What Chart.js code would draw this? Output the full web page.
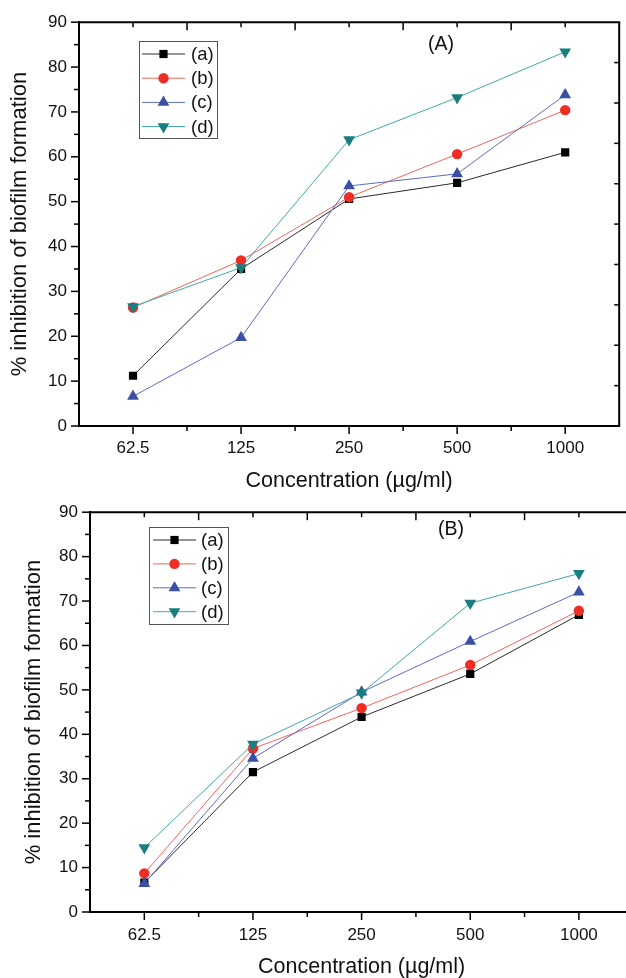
<!DOCTYPE html>
<html><head><meta charset="utf-8">
<script src="https://cdn.jsdelivr.net/npm/chart.js@4/dist/chart.umd.min.js"></script>
<style>
html,body{margin:0;padding:0;background:#fff;overflow:hidden;width:626px;height:978px;position:relative;}
#ca{position:absolute;left:0;top:0;}
#cb{position:absolute;left:0;top:490px;}
</style></head><body>
<canvas id="ca" width="626" height="500"></canvas>
<canvas id="cb" width="640" height="492"></canvas>
<script>
// ---- data ----
const categories = ['62.5', '125', '250', '500', '1000'];
const seriesNames = ['(a)', '(b)', '(c)', '(d)'];
const yTickValues = [0, 10, 20, 30, 40, 50, 60, 70, 80, 90];
const xTitle = 'Concentration (\u00B5g/ml)';
const yTitle = '% inhibition of biofilm formation';

const panelA_a = [11.2, 35.0, 50.6, 54.2, 61.0];
const panelA_b = [26.4, 36.9, 51.0, 60.6, 70.4];
const panelA_c = [6.6, 19.7, 53.5, 56.2, 73.8];
const panelA_d = [26.6, 35.3, 63.8, 73.2, 83.4];

const panelB_a = [6.6, 31.5, 43.9, 53.6, 66.9];
const panelB_b = [8.7, 36.8, 45.9, 55.6, 67.8];
const panelB_c = [6.4, 34.6, 49.5, 60.9, 72.0];
const panelB_d = [14.5, 37.8, 49.3, 69.5, 76.2];

// ---- styles ----
const FONT = '"Liberation Sans", Arial, Helvetica, sans-serif';
const seriesStyles = [
  {line: '#2a2a2a', fill: '#000000', pointStyle: 'rect', radius: 5.8, rotation: 0},
  {line: '#f2645c', fill: '#ee2d24', pointStyle: 'circle', radius: 5.2, rotation: 0},
  {line: '#5b6cc6', fill: '#3a4fa6', pointStyle: 'triangle', radius: 6.8, rotation: 0},
  {line: '#40a8a8', fill: '#1a7e7e', pointStyle: 'triangle', radius: 6.8, rotation: 180}
];

function makeDatasets(values) {
  return values.map((vals, i) => {
    const s = seriesStyles[i];
    return {
      label: seriesNames[i],
      data: vals,
      borderColor: s.line,
      borderWidth: 1,
      backgroundColor: s.fill,
      pointBackgroundColor: s.fill,
      pointBorderColor: s.fill,
      pointBorderWidth: 0,
      pointStyle: s.pointStyle,
      pointRotation: s.rotation,
      pointRadius: s.radius,
      tension: 0,
      fill: false,
      order: values.length - i
    };
  });
}

const framePlugin = {
  id: 'frame',
  afterDraw(chart, args, o) {
    const ctx = chart.ctx;
    const a = chart.chartArea;
    const x = chart.scales.x, y = chart.scales.y;
    const ln = (x1, y1, x2, y2) => { ctx.beginPath(); ctx.moveTo(x1, y1); ctx.lineTo(x2, y2); ctx.stroke(); };
    ctx.save();
    ctx.strokeStyle = '#000';
    ctx.lineWidth = 2;
    ln(a.left - 1, a.top, a.right + 1, a.top);
    ln(a.right, a.top, a.right, a.bottom + 1);
    ctx.lineWidth = 1.5;
    // left ticks (outward)
    for (let v = 0; v <= 90; v += 5) {
      const py = y.getPixelForValue(v);
      const len = v % 10 === 0 ? 8 : 5;
      ln(a.left - len, py, a.left, py);
    }
    // right ticks (inward)
    for (let v = 9; v < 90; v += 9) {
      const py = y.getPixelForValue(v);
      ln(a.right - 5, py, a.right, py);
    }
    // bottom & top ticks
    const n = categories.length;
    for (let k = 1; k < 2 * n; k++) {
      const idx = -0.5 + k * 0.5;
      const px = x.getPixelForValue(idx);
      const major = Number.isInteger(idx);
      ln(px, a.bottom, px, a.bottom + (major ? 8 : 5));
      ln(px, a.top, px, a.top + (major ? 5 : 8));
    }
    // panel label
    ctx.fillStyle = '#111';
    ctx.font = '19.5px ' + FONT;
    ctx.textAlign = 'center';
    ctx.textBaseline = 'middle';
    ctx.fillText(o.panel, o.panelX, o.panelY);
    // legend
    const L = o.legend;
    ctx.lineWidth = 1;
    ctx.strokeStyle = '#555';
    ctx.strokeRect(L.x + 0.5, L.y + 0.5, L.w, L.h);
    chart.data.datasets.forEach((ds, i) => {
      const s = seriesStyles[i];
      const cy = L.y + L.first + i * L.step;
      ctx.strokeStyle = ds.borderColor;
      ctx.lineWidth = 1;
      ln(L.lineX1, cy, L.lineX2, cy);
      ctx.fillStyle = s.fill;
      ctx.strokeStyle = s.fill;
      Chart.helpers.drawPoint(ctx, {pointStyle: s.pointStyle, rotation: s.rotation, radius: s.radius, borderWidth: 0}, (L.lineX1 + L.lineX2) / 2, cy);
      ctx.fillStyle = '#111';
      ctx.font = '18.5px ' + FONT;
      ctx.textAlign = 'left';
      ctx.textBaseline = 'middle';
      ctx.fillText(ds.label, L.textX, cy + 1);
    });
    ctx.restore();
  }
};

function makeChart(id, values, cfg) {
  return new Chart(document.getElementById(id), {
    type: 'line',
    data: {labels: categories, datasets: makeDatasets(values)},
    options: {
      responsive: false,
      animation: false,
      devicePixelRatio: 1,
      layout: {padding: cfg.padding},
      plugins: {
        legend: {display: false},
        tooltip: {enabled: false},
        frame: cfg.frame
      },
      scales: {
        x: {
          type: 'category',
          offset: true,
          grid: {display: false, drawTicks: false},
          border: {display: true, width: 2, color: '#000'},
          ticks: {color: '#111', font: {family: FONT, size: 17}, padding: cfg.xTickPad, maxRotation: 0},
          title: {display: true, text: xTitle, color: '#111', font: {family: FONT, size: 21.5}, padding: {top: 0, bottom: cfg.xTitlePad}},
          afterFit(s) { s.height = cfg.xHeight; }
        },
        y: {
          min: 0, max: 90,
          afterBuildTicks(s) { s.ticks = yTickValues.map(v => ({value: v})); },
          grid: {display: false, drawTicks: false},
          border: {display: true, width: 2, color: '#000'},
          ticks: {color: '#111', font: {family: FONT, size: 17}, padding: 12},
          title: {display: true, text: yTitle, color: '#111', font: {family: FONT, size: 22}, padding: {top: cfg.yTitlePad, bottom: 0}},
          afterFit(s) { s.width = cfg.yWidth; }
        }
      }
    },
    plugins: [framePlugin]
  });
}

makeChart('ca', [panelA_a, panelA_b, panelA_c, panelA_d], {
  padding: {left: 0, right: 1, top: 21, bottom: 0},
  xHeight: 74, xTickPad: 12, xTitlePad: 6, yWidth: 79, yTitlePad: 7,
  frame: {
    panel: '(A)', panelX: 441, panelY: 45,
    legend: {x: 139, y: 41, w: 78, h: 97, first: 13, step: 24.2, lineX1: 142, lineX2: 185, textX: 191}
  }
});

makeChart('cb', [panelB_a, panelB_b, panelB_c, panelB_d], {
  padding: {left: 0, right: 3, top: 16, bottom: 0},
  xHeight: 70, xTickPad: 13, xTitlePad: 2, yWidth: 90, yTitlePad: 21,
  frame: {
    panel: '(B)', panelX: 451, panelY: 40,
    legend: {x: 149, y: 37, w: 79, h: 97, first: 13, step: 23.9, lineX1: 153, lineX2: 196, textX: 201}
  }
});
</script>
</body></html>
